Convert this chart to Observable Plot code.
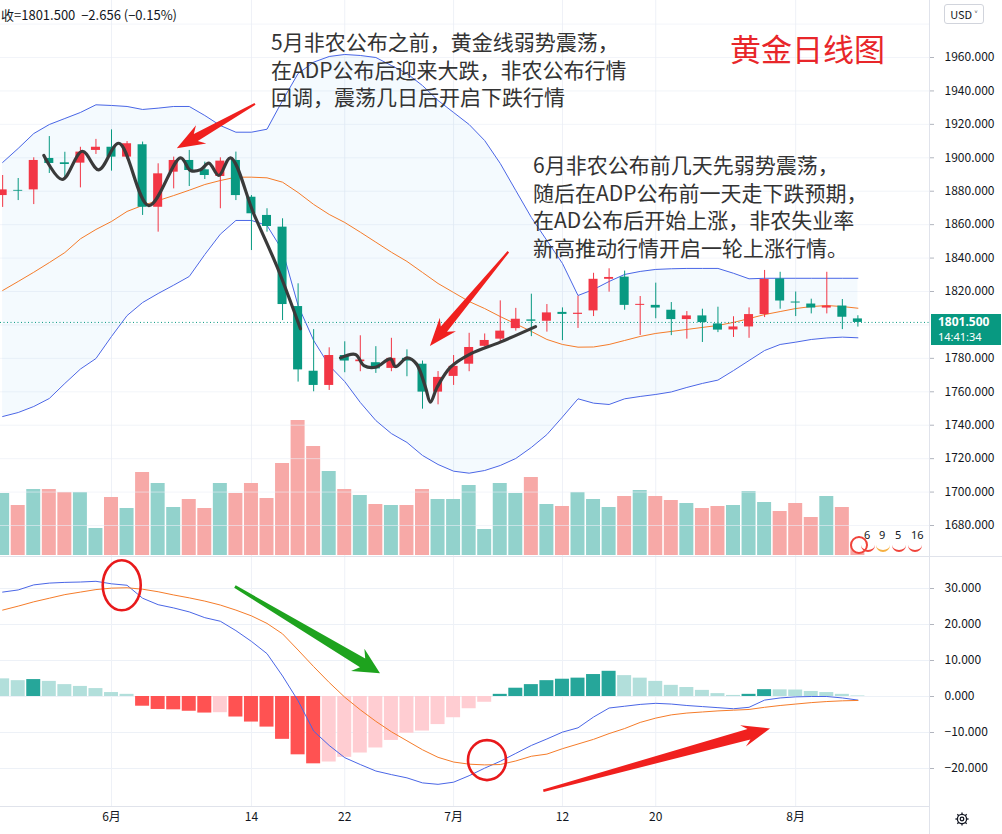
<!DOCTYPE html>
<html><head><meta charset="utf-8">
<script src="https://cdn.jsdelivr.net/npm/d3@7"></script>
<script src="https://cdn.jsdelivr.net/npm/@observablehq/plot@0.6"></script>
<style>
body{margin:0;background:#fff;}
#wrap{position:relative;width:1002px;height:834px;overflow:hidden;background:#fff;font-family:"Noto Sans CJK SC","Noto Sans",sans-serif;}
.layer{position:absolute;left:0;}
.note{position:absolute;color:#333;font-size:21px;line-height:27.6px;white-space:nowrap;}
</style></head><body><div id="wrap"></div>
<script>
// ---- data ----
const dates = ["05-21","05-24","05-25","05-26","05-27","05-28","05-31",
"06-01","06-02","06-03","06-04","06-07","06-08","06-09","06-10","06-11","06-14","06-15","06-16","06-17","06-18","06-21","06-22","06-23","06-24","06-25","06-28","06-29","06-30",
"07-01","07-02","07-05","07-06","07-07","07-08","07-09","07-12","07-13","07-14","07-15","07-16","07-19","07-20","07-21","07-22","07-23","07-26","07-27","07-28","07-29","07-30",
"08-02","08-03","08-04","08-05","08-06"];
const open = [1877.4,1880.5,1880.8,1899.6,1897,1896.8,1904.4,
1906.3,1900.4,1907.8,1870.4,1891.4,1898.4,1892.8,1888.8,1898.4,1876.4,1865.5,1858.5,1811,1772.3,1763.8,1781.7,1778,1777.4,1774,1780,1776.5,1759.8,
1769.2,1776.5,1787.2,1791.5,1797.8,1803,1802.2,1807.5,1806.3,1808.4,1827.3,1828.6,1811.7,1811.7,1808.8,1803.2,1805.4,1800.6,1797,1798.8,1806.2,1827.5,
1813.7,1812.5,1810.1,1811.3,1803.6];
const high = [1889.4,1887.6,1900,1912.7,1903.3,1906.3,1911,
1916.7,1909.7,1909.4,1896.4,1900.4,1904.4,1897.4,1900,1903.4,1877.4,1869.5,1863.5,1824.6,1797.2,1786.3,1789.9,1793.5,1787,1792,1785.1,1778.4,1772.1,
1781.7,1795,1794.6,1814.4,1809.9,1818.4,1812.2,1810.2,1817.2,1830.9,1833.6,1832.2,1817,1825,1813.4,1808,1809.4,1810.6,1804.9,1810.2,1832.6,1831.5,
1819.7,1815.4,1831.5,1815.2,1805.5];
const low = [1870.3,1874.4,1872,1890.6,1887.6,1882,1902,
1892,1899,1865.5,1855.5,1881.4,1882.8,1887,1869.5,1874.4,1844.5,1855.5,1802.6,1765.8,1760,1760.8,1771.4,1772,1771,1772,1769,1749.6,1752.2,
1763.8,1772,1786.8,1788.8,1796.3,1793,1795.7,1790.6,1797.9,1805,1819.6,1808.8,1793.7,1803.7,1793.6,1791.5,1789.5,1795.4,1792.5,1792,1804.4,1809.4,
1805,1806.6,1806.6,1797.2,1798.7];
const close = [1880.8,1880.0,1898.4,1896.6,1896,1903.4,1906.3,
1900.4,1908.4,1870.4,1890.4,1898.4,1892.4,1889.4,1898,1877.4,1866.5,1858.9,1812.2,1773.1,1763.8,1781.7,1778.4,1779,1773.7,1780,1778.4,1759.8,1768.6,
1775.2,1786.5,1790.7,1796.3,1803.4,1802.2,1807.2,1806.3,1807,1827.3,1828.4,1811.7,1812.3,1810.1,1803.2,1805.4,1801.4,1796.9,1798.8,1806.2,1827.2,1814.3,
1813.1,1810.1,1811.3,1804.6,1801.5];
const volume = [62,50,66,66,63,63,27,
58,47,83,72,48,56,47,72,62,72,57,92,135,109,84,66,60,51,50,50,66,56,
56,70,26,72,62,78,51,49,63,56,48,59,65,59,55,52,47,49,50,64,53,44,
52,38,59,48,10];
const bbUpper = [1897.2,1905.6,1914.5,1919.9,1923.5,1927.1,1931.7,
1931.3,1930.7,1928.9,1929.7,1930.7,1930.7,1925.3,1919.3,1915.3,1915.3,1917.1,1934.3,1950.4,1957.2,1960.6,1961.8,1961.2,1960,1955.2,1950.4,1943.2,1934.3,
1927.1,1919.9,1910.3,1896.6,1880.4,1864.3,1850.5,1836.8,1817.6,1821.2,1826,1830.2,1832,1833.2,1833.6,1833.8,1833.8,1833.8,1830.9,1827.6,1827.9,1827.9,
1827.9,1827.9,1827.9,1827.9,1827.9];
const bbBasis = [1820.6,1826,1831.5,1837.3,1843.3,1851.5,1857.1,
1861.9,1867.9,1871.5,1874.4,1877.4,1880.6,1884,1886.4,1888.4,1888.4,1888,1885.4,1879.2,1872.1,1866.1,1861.3,1855.5,1849.5,1843.5,1838,1831.4,1824.8,
1819.4,1814,1809.8,1805,1800.6,1796.1,1791.3,1788.3,1786.7,1786.8,1788.3,1790.7,1793.1,1794.9,1796.1,1797.3,1798.5,1799.7,1801.5,1803.8,1806.2,1808,
1809.8,1811,1811.6,1811,1810];
const bbLower = [1745.2,1747.6,1751.2,1756,1765,1773.6,1779.9,
1793.1,1805.6,1813.4,1818.8,1823.8,1829,1842.1,1854.3,1862.5,1862.5,1859.5,1844.5,1811.6,1790.7,1775.7,1766.1,1753.6,1742.8,1735,1729.7,1721.9,1716.5,
1712.5,1711.3,1712.9,1715.9,1720.1,1726.7,1734.4,1744.9,1755.8,1753.2,1752.4,1755.8,1757.2,1758.4,1759.9,1762.6,1765,1767,1772.7,1778.7,1784.7,1788.3,
1789.7,1791.3,1792.2,1792.7,1792.3];
const macdHist = [4.9,4.4,4.7,4.2,3.3,2.8,2.2,
1.1,0.6,-2.7,-3.6,-3.7,-4.1,-4.6,-4.5,-5.7,-7.1,-8.5,-11.9,-16.2,-18.7,-18.2,-16.9,-15.7,-14.3,-12.2,-10.2,-9.6,-7.8,
-5.9,-3.4,-1.6,0.6,2.3,3.3,4.4,4.8,5.1,6.1,7.0,5.8,5.1,4.2,3.1,2.5,1.7,0.8,0.3,0.6,1.9,1.85,
1.8,1.4,1.1,0.6,0.15];
const macdLine = [29.0,29.6,31.0,31.5,31.7,31.8,32.0,
31.3,30.9,27.3,25.5,24.6,23.5,21.9,20.9,18.3,15.3,11.9,5.7,-1.2,-9.6,-13.6,-17.0,-18.9,-20.7,-21.7,-22.6,-24.0,-24.4,
-23.8,-22.0,-19.9,-18.0,-15.8,-13.6,-11.8,-9.9,-8.7,-5.7,-3.2,-2.7,-2.2,-1.9,-2.1,-2.5,-2.8,-3.1,-3.4,-3.0,-1.0,-0.4,
-0.1,0.0,0.0,-0.4,-1.0];
const signalLine = [24.0,25.1,26.3,27.3,28.3,29.0,29.7,
30.1,30.2,29.8,29.1,28.2,27.4,26.5,25.4,24.0,22.4,20.3,17.4,12.9,8.3,3.9,-0.2,-3.7,-6.9,-9.8,-12.3,-14.8,-16.9,
-18.2,-18.8,-19.0,-18.9,-17.9,-16.6,-16.0,-14.5,-13.2,-11.9,-10.3,-8.9,-7.2,-6.0,-5.1,-4.6,-4.3,-4.0,-3.8,-3.6,-3.0,-2.5,
-2.1,-1.7,-1.4,-1.2,-1.1];
const priceTicks = [1680,1700,1720,1740,1760,1780,1800,1820,1840,1860,1880,1900,1920,1940,1960,1980];
const priceLabelTicks = [1680,1700,1720,1740,1760,1780,1820,1840,1860,1880,1900,1920,1940,1960];
const macdTicks = [-20,-10,0,10,20,30];
const tickDates = ["06-01","06-14","06-22","07-01","07-12","07-20","08-02"];
const tickLabels = ["6月","14","22","7月","12","20","8月"];
const lastPrice = 1801.5;
// hand-drawn annotation paths (day position, price)
const sketch1 = [[2.65,1901.4],[3.83,1887.0],[5.12,1903.9],[6.18,1892.8],[7.47,1908.7],[9.40,1871.4],[11.44,1900.0],[12.08,1892.4],[12.72,1892.8],[13.26,1896.8],[13.90,1889.4],[14.65,1900.0],[16.15,1866.5],[17.66,1834.5],[19.15,1797.7]];
const sketch2 = [[21.73,1780.3],[22.69,1782.3],[23.23,1775.7],[23.98,1774.7],[24.94,1779.7],[25.26,1775.1],[26.02,1780.3],[26.61,1776.7],[27.19,1762.7],[27.51,1753.8],[27.94,1762.7],[28.8,1774.7],[30.09,1782.7],[32.0,1789.7],[34.27,1799]];
// arrows: [fromX, fromY, toX, toY]
const priceArrows = [[16.26,1931.9,11.23,1905.4],[32.55,1843.5,27.51,1787.1]];
const greenArrow = [[14.97,30.4,24.3,6.3]];
const redArrowMacd = [[34.8,-26.3,49.38,-9.0]];
const circles = [[7.69,30.75],[31.18,-17.8]];

const FONT = "'Noto Sans CJK SC','Noto Sans',sans-serif";
const rows = dates.map((d,k)=>({p:k,date:d,open:open[k],high:high[k],low:low[k],close:close[k],vol:volume[k],
  up:bbUpper[k],mid:bbBasis[k],lo:bbLower[k],hist:macdHist[k],macd:macdLine[k],sig:signalLine[k]}));
const tickPos = tickDates.map(d=>dates.indexOf(d));
const xOpt = {domain:[7,51], range:[111,111+44*15.55], axis:null};
const UP="#f23645", DOWN="#089981";
const ns="http://www.w3.org/2000/svg";

function wedges(list, color, o){
  return (index, scales) => {
    const g=document.createElementNS(ns,"g");
    for(const a of list){
      const x0=scales.x(a[0]), y0=scales.y(a[1]), x1=scales.x(a[2]), y1=scales.y(a[3]);
      const dx=x1-x0, dy=y1-y0, L=Math.hypot(dx,dy), ux=dx/L, uy=dy/L, nx=-uy, ny=ux;
      const bx=x1-ux*o.head, by=y1-uy*o.head;
      const cx=x1-ux*(o.head*0.78), cy=y1-uy*(o.head*0.78);
      const pts=[[x0+nx*o.w0/2,y0+ny*o.w0/2],[cx+nx*o.w1/2,cy+ny*o.w1/2],[bx+nx*o.hw/2,by+ny*o.hw/2],[x1,y1],
        [bx-nx*o.hw/2,by-ny*o.hw/2],[cx-nx*o.w1/2,cy-ny*o.w1/2],[x0-nx*o.w0/2,y0-ny*o.w0/2]];
      const path=document.createElementNS(ns,"path");
      path.setAttribute("d","M"+pts.map(p=>p[0].toFixed(1)+","+p[1].toFixed(1)).join("L")+"Z");
      path.setAttribute("fill",color);
      g.appendChild(path);
    }
    return g;
  };
}
function ellipses(list){
  return (index, scales) => {
    const g=document.createElementNS(ns,"g");
    for(const c of list){
      const e=document.createElementNS(ns,"ellipse");
      e.setAttribute("cx",scales.x(c[0])); e.setAttribute("cy",scales.y(c[1]));
      e.setAttribute("rx",19); e.setAttribute("ry",c[1]>0?25:20);
      e.setAttribute("fill","none"); e.setAttribute("stroke","#e8191b"); e.setAttribute("stroke-width",2.6);
      g.appendChild(e);
    }
    return g;
  };
}

const wrap=document.getElementById("wrap");
function place(svg, top, z){ svg.classList.add("layer"); svg.style.top=top+"px"; svg.style.zIndex=z; wrap.appendChild(svg); }
const baseStyle={background:"transparent",fontFamily:FONT,fontSize:"12px",overflow:"visible"};

// volume + vertical grid (bottom layer)
const volPlot=Plot.plot({width:1002,height:556,marginLeft:0,marginRight:73,marginTop:0,marginBottom:0,style:baseStyle,
  x:xOpt, y:{domain:[0,135],range:[555,420],axis:null}, color:{type:"identity"},
  marks:[
    Plot.gridX(tickPos,{stroke:"#eef1f7",strokeOpacity:1}),
    Plot.rect(rows,{x1:d=>d.p-0.45,x2:d=>d.p+0.45,y1:0,y2:"vol",fill:d=>d.close>=d.open?"#92d2cc":"#f7a9a7"})
  ]});
place(volPlot,0,1);

// price pane
const pricePlot=Plot.plot({width:1002,height:556,marginLeft:0,marginRight:73,marginTop:0,marginBottom:0,style:baseStyle,
  x:xOpt, y:{domain:[1680,1960],range:[525,57],axis:null}, color:{type:"identity"},
  marks:[
    Plot.gridY(priceTicks,{stroke:"#e9edf5",strokeOpacity:0.6}),
    Plot.areaY(rows,{x:"p",y1:"lo",y2:"up",fill:"#2196f3",fillOpacity:0.05}),
    Plot.line(rows,{x:"p",y:"up",stroke:"#4a66e6",strokeWidth:1}),
    Plot.line(rows,{x:"p",y:"lo",stroke:"#4a66e6",strokeWidth:1}),
    Plot.line(rows,{x:"p",y:"mid",stroke:"#f57c2a",strokeWidth:1}),
    Plot.ruleY([lastPrice],{stroke:"#089981",strokeDasharray:"1,2.5",strokeWidth:1}),
    Plot.ruleX(rows,{x:"p",y1:"low",y2:"high",stroke:d=>d.close>=d.open?UP:DOWN,strokeWidth:1}),
    Plot.rect(rows,{x1:d=>d.p-0.29,x2:d=>d.p+0.29,y1:"open",y2:"close",fill:d=>d.close>=d.open?UP:DOWN}),
    Plot.line(sketch1,{x:"0",y:"1",stroke:"#3a3a3a",strokeWidth:3.2,curve:"catmull-rom",strokeLinecap:"round"}),
    Plot.line(sketch2,{x:"0",y:"1",stroke:"#3a3a3a",strokeWidth:3.2,curve:"catmull-rom",strokeLinecap:"round"}),
    wedges(priceArrows,"#f0201e",{w0:2,w1:8,head:28,hw:21}),
    Plot.axisY({anchor:"right",ticks:priceLabelTicks,tickFormat:d3.format(".3f"),tickSize:4,tickPadding:11,stroke:"#b2b5be",fill:"#131722",fontSize:12,label:null})
  ]});
place(pricePlot,0,2);

// MACD pane + time axis
const macdPlot=Plot.plot({width:1002,height:278,marginLeft:0,marginRight:73,marginTop:0,marginBottom:28,style:baseStyle,
  x:xOpt, y:{domain:[-20,30],range:[212,32],axis:null}, color:{type:"identity"},
  marks:[
    Plot.gridY(macdTicks,{stroke:"#e9edf5",strokeOpacity:0.8}),
    Plot.gridX(tickPos,{stroke:"#eef1f7",strokeOpacity:1}),
    Plot.rect(rows,{x1:d=>d.p-0.45,x2:d=>d.p+0.45,y1:0,y2:"hist",
      fill:d=>{const prev=d.p>0?macdHist[d.p-1]:Infinity; return d.hist>=0?(d.hist>prev?"#26a69a":"#b2dfdb"):(d.hist<prev?"#ff5252":"#ffcdd2");}}),
    Plot.line(rows,{x:"p",y:"macd",stroke:"#4a66e6",strokeWidth:1}),
    Plot.line(rows,{x:"p",y:"sig",stroke:"#f57c2a",strokeWidth:1}),
    ellipses(circles),
    wedges(greenArrow,"#1ea31e",{w0:3,w1:10,head:26,hw:26}),
    wedges(redArrowMacd,"#f0201e",{w0:2.5,w1:11,head:28,hw:22}),
    Plot.axisY({anchor:"right",ticks:macdTicks,tickFormat:d3.format(".3f"),tickSize:4,tickPadding:11,stroke:"#b2b5be",fill:"#131722",fontSize:12,label:null}),
    Plot.axisX({anchor:"bottom",ticks:tickPos,tickFormat:d=>tickLabels[tickPos.indexOf(d)],tickSize:0,tickPadding:6,fill:"#131722",fontSize:12,label:null})
  ]});
place(macdPlot,556,2);

// frame lines and overlays
function div(css, html){ const e=document.createElement("div"); e.style.cssText="position:absolute;"+css; if(html!==undefined) e.innerHTML=html; wrap.appendChild(e); return e; }
div("left:929px;top:0;width:1px;height:834px;background:#e0e3eb;z-index:3;");
div("left:0;top:556px;width:1002px;height:1px;background:#e0e3eb;z-index:3;");
div("left:0;top:806px;width:929px;height:1px;background:#e0e3eb;z-index:3;");
div("left:1px;top:5px;font-size:13px;color:#131722;z-index:4;white-space:nowrap;","收=1801.500&nbsp; &minus;2.656 (&minus;0.15%)");
div("left:944px;top:4px;width:38px;height:18px;border:1px solid #d1d4dc;border-radius:3px;background:#fff;font-size:11px;line-height:18px;text-align:center;color:#131722;z-index:4;","USD ˅");
div("left:931px;top:314px;width:70px;height:31px;background:#089981;color:#fff;z-index:4;font-family:'Noto Sans',sans-serif;",
  "<div style='position:absolute;left:7px;top:1px;font-size:12px;font-weight:bold;line-height:14px;'>1801.500</div><div style='position:absolute;left:7px;top:16px;font-size:11px;line-height:13px;'>14:41:34</div>");
// settings gear icon
div("left:953px;top:809px;width:18px;height:18px;z-index:4;",
  "<svg width='18' height='18' viewBox='0 0 18 18'><g fill='none' stroke='#131722' stroke-width='1.3'><circle cx='9' cy='9' r='4.6'/><circle cx='9' cy='9' r='1.8'/>"+
  [0,45,90,135,180,225,270,315].map(a=>{const r=a*Math.PI/180;return `<line x1='${(9+4.6*Math.cos(r)).toFixed(2)}' y1='${(9+4.6*Math.sin(r)).toFixed(2)}' x2='${(9+6.6*Math.cos(r)).toFixed(2)}' y2='${(9+6.6*Math.sin(r)).toFixed(2)}'/>`;}).join("")+
  "</g></svg>");
// economic calendar markers
const cal=[["6",868],["9",883],["5",899],["16",915]];
div("left:850px;top:536px;width:14px;height:14px;border:2px solid #f0433a;border-radius:50%;z-index:3;background:#fff;");
for(const [t,x] of cal){
  div(`left:${x-7}px;top:540px;width:14px;height:10px;border-bottom:2px solid ${t==="9"?"#f5b041":"#f0433a"};border-radius:0 0 8px 8px;z-index:3;`);
  div(`left:${x-4}px;top:527px;font-size:11px;color:#131722;z-index:4;font-family:'Noto Sans',sans-serif;`,t);
}
// annotation text
div("left:730px;top:31px;font-size:31px;line-height:34px;color:#e8262a;z-index:5;white-space:nowrap;","黄金日线图");
const n1=div("left:271px;top:28px;z-index:5;","5月非农公布之前，黄金线弱势震荡，<br>在ADP公布后迎来大跌，非农公布行情<br>回调，震荡几日后开启下跌行情"); n1.className="note";
const n2=div("left:533px;top:151px;z-index:5;","6月非农公布前几天先弱势震荡，<br>随后在ADP公布前一天走下跌预期，<br>在AD公布后开始上涨，非农失业率<br>新高推动行情开启一轮上涨行情。"); n2.className="note";
</script></body></html>
